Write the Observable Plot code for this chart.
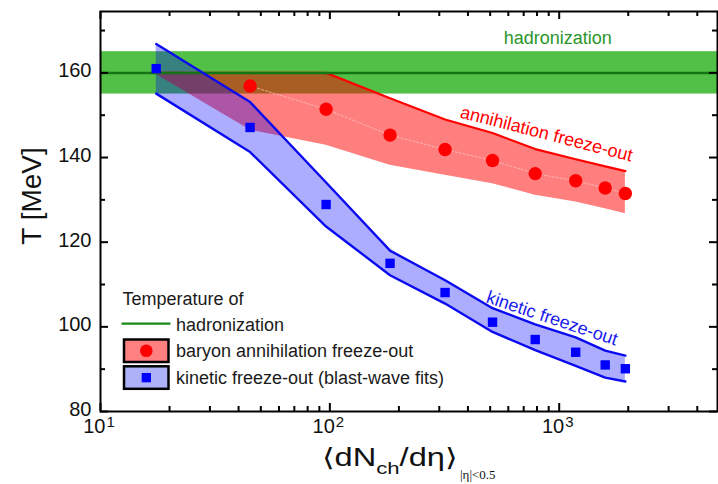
<!DOCTYPE html>
<html><head><meta charset="utf-8">
<script src="https://cdn.jsdelivr.net/npm/d3@7"></script>
<script src="https://cdn.jsdelivr.net/npm/@observablehq/plot@0.6"></script>
<style>
html,body{margin:0;padding:0;background:#fff}
#chart{width:718px;height:484px;overflow:hidden}
</style>
</head><body><div id="chart"></div>
<script>
// ---- data ----
const dNdeta = [17.5, 44.9, 96.3, 183, 318, 512, 786, 1180, 1587, 1943];
// kinetic freeze-out (blast-wave fits)
const kinT     = [161.0, 147.1, 128.9, 115.0, 108.1, 101.1, 97.0, 94.0, 91.0, 90.1];
const kinUpper = [166.8, 153.1, 134.1, 118.0, 111.0, 104.4, 100.6, 97.5, 94.4, 93.2];
const kinLower = [155.1, 141.3, 123.7, 112.2, 105.5, 98.8, 94.5, 90.8, 88.0, 87.1];
// baryon annihilation freeze-out
const annT     = [null, 156.9, 151.4, 145.3, 141.9, 139.3, 136.2, 134.5, 132.8, 131.5];
const annUpper = [160, 160, 160, 154.0, 149.0, 145.8, 142.0, 139.6, 137.9, 136.8];
const annLower = [159.6, 146.5, 142.9, 138.2, 135.8, 133.8, 131.1, 129.5, 127.9, 126.7];
// hadronization
const hadronT = [160];
const hadronBand = [{lo: 155, hi: 165}];
// axes
const xDomain = [10, 4900];
const yDomain = [80, 174.5];
const xDecades = [10, 100, 1000];
const xExponents = ["1", "2", "3"];
const xMinor = [20,30,40,50,60,70,80,90,200,300,400,500,600,700,800,900,2000,3000,4000];
const yMajor = [80, 100, 120, 140, 160];
const yMinor = [90, 110, 130, 150, 170];
// in-plot annotations (data coordinates)
const labelHadron = [{text: "hadronization", x: 985, y: 168.1}];
const labelAnn = [{text: "annihilation freeze-out", x: 880, y: 145.6}];
const labelKin = [{text: "kinetic freeze-out", x: 931, y: 102.0}];

// ---- build table ----
const rows = dNdeta.map((x, i) => ({
  x, kinT: kinT[i], kinUpper: kinUpper[i], kinLower: kinLower[i],
  annT: annT[i], annUpper: annUpper[i], annLower: annLower[i]
}));

const W = 718, H = 484;
const mL = 100, mR = 1, mT = 11, mB = 73;
const fW = W - mL - mR, fH = H - mT - mB;

const RED = "#ff0000", BLUE = "#0000ff", GREEN_BAND = "#52bf46", GREEN_LINE = "#137513";
const FONT = "'Liberation Sans', Arial, Helvetica, sans-serif";

const chart = Plot.plot({
  width: W, height: H,
  marginLeft: mL, marginRight: mR, marginTop: mT, marginBottom: mB,
  style: {fontFamily: FONT, background: "#fff", color: "#000", overflow: "visible"},
  x: {type: "log", domain: xDomain, axis: null},
  y: {domain: yDomain, axis: null},
  marks: [
    Plot.rect(hadronBand, {x1: xDomain[0], x2: xDomain[1], y1: "lo", y2: "hi", fill: GREEN_BAND}),
    Plot.areaY(rows, {x: "x", y1: "annLower", y2: "annUpper", fill: RED, fillOpacity: 0.5}),
    Plot.areaY(rows, {x: "x", y1: "kinLower", y2: "kinUpper", fill: BLUE, fillOpacity: 0.32}),
    Plot.line(rows.filter(d => d.annT != null), {x: "x", y: "annT", stroke: "#ffc8c8", strokeWidth: 0.7, strokeDasharray: "2,2"}),
    Plot.line(rows, {x: "x", y: "annUpper", stroke: RED, strokeWidth: 2.2}),
    Plot.ruleY(hadronT, {stroke: GREEN_LINE, strokeWidth: 2.5}),
    Plot.line(rows, {x: "x", y: "kinUpper", stroke: "#0a0af0", strokeWidth: 2.4}),
    Plot.line(rows, {x: "x", y: "kinLower", stroke: "#0a0af0", strokeWidth: 2.4}),
    Plot.dot(rows.filter(d => d.annT != null), {x: "x", y: "annT", r: 6.7, fill: RED, stroke: "none"}),
    Plot.dot(rows, {x: "x", y: "kinT", symbol: "square", r: 5.3, fill: BLUE, stroke: "none"}),
    // annotations
    Plot.text(labelHadron, {x: "x", y: "y", text: "text", fill: "#2b962b", fontSize: 18}),
    Plot.text(labelAnn, {x: "x", y: "y", text: "text", fill: RED, fontSize: 18, rotate: 14.4}),
    Plot.text(labelKin, {x: "x", y: "y", text: "text", fill: "#1a1aee", fontSize: 18, rotate: 18.5}),
    // frame + inward ticks
    Plot.frame({stroke: "#000", strokeWidth: 2}),
    Plot.ruleX(xDecades, {x: d => d, insetTop: fH - 8, stroke: "#000", strokeWidth: 2}),
    Plot.ruleX(xDecades, {x: d => d, insetBottom: fH - 8, stroke: "#000", strokeWidth: 2}),
    Plot.ruleX(xMinor, {x: d => d, insetTop: fH - 5, stroke: "#000", strokeWidth: 2}),
    Plot.ruleX(xMinor, {x: d => d, insetBottom: fH - 5, stroke: "#000", strokeWidth: 2}),
    Plot.ruleY(yMajor, {y: d => d, insetRight: fW - 8, stroke: "#000", strokeWidth: 2}),
    Plot.ruleY(yMajor, {y: d => d, insetLeft: fW - 8, stroke: "#000", strokeWidth: 2}),
    Plot.ruleY(yMinor, {y: d => d, insetRight: fW - 5, stroke: "#000", strokeWidth: 2}),
    Plot.ruleY(yMinor, {y: d => d, insetLeft: fW - 5, stroke: "#000", strokeWidth: 2}),
    // tick labels
    Plot.text(yMajor, {y: d => d, frameAnchor: "left", text: d => String(d), textAnchor: "end", dx: -9, dy: -2, fontSize: 20, fill: "#111"}),
    Plot.text(xDecades, {x: d => d, frameAnchor: "bottom", text: () => "10", textAnchor: "end", dx: 5, dy: 21, fontSize: 20, fill: "#111"}),
    Plot.text(xDecades, {x: d => d, frameAnchor: "bottom", text: (d, i) => xExponents[i], textAnchor: "start", dx: 6, dy: 15, fontSize: 15, fill: "#111"})
  ]
});

document.getElementById("chart").appendChild(chart);

// ---- axis titles and legend (plain SVG on top of the Plot SVG) ----
const svg = d3.select(chart);
svg.append("text")
  .attr("transform", "translate(41,196) rotate(-90)")
  .attr("text-anchor", "middle")
  .attr("font-family", FONT).attr("font-size", 28).attr("fill", "#111")
  .text("T [MeV]");

const xt = svg.append("text")
  .attr("x", 321.5).attr("y", 466).attr("text-anchor", "start")
  .attr("font-family", FONT).attr("font-size", 25).attr("fill", "#111")
  .attr("textLength", 136.5).attr("lengthAdjust", "spacingAndGlyphs");
xt.append("tspan").text("\u27E8dN");
xt.append("tspan").attr("font-size", 17).attr("dy", 8).text("ch");
xt.append("tspan").attr("dy", -8).text("/d\u03B7\u27E9");
svg.append("text")
  .attr("x", 460).attr("y", 479).attr("text-anchor", "start")
  .attr("font-family", "'Liberation Serif', 'Times New Roman', serif").attr("font-size", 13).attr("fill", "#111")
  .text("|\u03B7|<0.5");

const lg = svg.append("g").attr("font-family", FONT).attr("font-size", 18).attr("fill", "#1a1a1a").attr("text-anchor", "start");
lg.append("text").attr("x", 122.5).attr("y", 305).text("Temperature of");
lg.append("line").attr("x1", 121.5).attr("x2", 170.5).attr("y1", 323.7).attr("y2", 323.7)
  .attr("stroke", "#168a16").attr("stroke-width", 2.2);
lg.append("text").attr("x", 176).attr("y", 330.5).text("hadronization");
lg.append("rect").attr("x", 124).attr("y", 339.5).attr("width", 44.5).attr("height", 22.5)
  .attr("fill", "#ff8080").attr("stroke", "#000").attr("stroke-width", 2.5);
lg.append("circle").attr("cx", 146.3).attr("cy", 350.8).attr("r", 6.3).attr("fill", RED);
lg.append("text").attr("x", 176).attr("y", 357).text("baryon annihilation freeze-out");
lg.append("rect").attr("x", 124).attr("y", 366.3).attr("width", 44.5).attr("height", 22.5)
  .attr("fill", "#adb1f8").attr("stroke", "#000").attr("stroke-width", 2.5);
lg.append("rect").attr("x", 141.7).attr("y", 373).attr("width", 9.3).attr("height", 9.3).attr("fill", BLUE);
lg.append("text").attr("x", 176).attr("y", 383.5).text("kinetic freeze-out (blast-wave fits)");
</script>
</body></html>
